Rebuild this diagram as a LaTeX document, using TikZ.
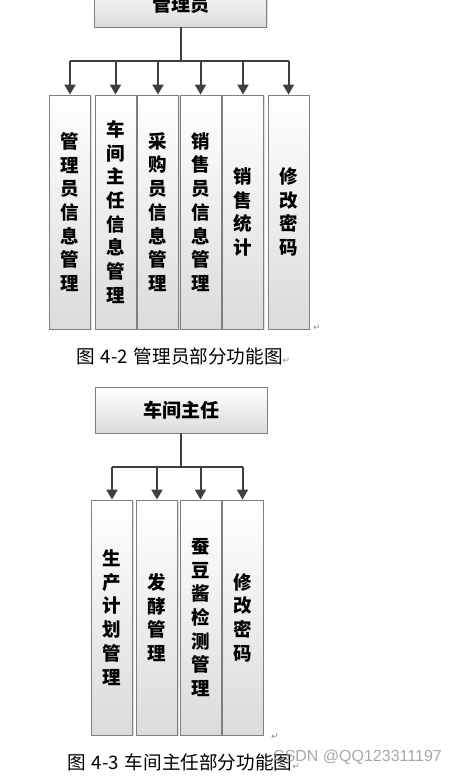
\documentclass[tikz,border=0pt]{standalone}
\usepackage{fontspec}
\usepackage{tikz}
\usetikzlibrary{arrows.meta,shadows}
\newfontfamily\cjk{Noto Sans CJK SC}
\newfontfamily\symfont{DejaVu Sans}
\newfontfamily\wmfont{Liberation Sans}
\definecolor{edgecol}{HTML}{7F7F7F}
\definecolor{linecol}{HTML}{3F3F3F}
\newcommand{\pmark}{{\symfont\fontsize{9}{9}\selectfont\textcolor{black!45}{↵}}}
\newcommand{\capsp}{\hspace{6pt}}
\tikzset{
  head/.style={draw=edgecol, line width=0.9pt, top color=white, bottom color=black!14,
    drop shadow={shadow xshift=1.2pt, shadow yshift=-1.2pt, fill=black!25},
    minimum width=172pt, minimum height=46pt, inner sep=0pt,
    font=\cjk\bfseries\fontsize{19}{19}\selectfont},
  item/.style={draw=edgecol, line width=0.9pt, top color=white, bottom color=black!14,
    drop shadow={shadow xshift=1.2pt, shadow yshift=-1.2pt, fill=black!25},
    minimum width=41pt, minimum height=234pt, inner sep=0pt, align=center,
    font=\cjk\bfseries\fontsize{18.5}{23.7}\selectfont},
  conn/.style={draw=linecol, line width=2pt},
  arr/.style={conn, -{Triangle[width=11pt,length=10pt]}},
  figcap/.style={anchor=west, inner sep=0pt, font=\cjk\fontsize{18.6}{18.6}\selectfont},
  paramark/.style={inner sep=0pt, text=black!45, font=\symfont\fontsize{9}{9}\selectfont}}

\begin{document}
\begin{tikzpicture}[x=1pt, y=-1pt]
    \useasboundingbox[fill=white] (0,0) rectangle (461,776);
    % admin part
    \node[head] (adm) at (180.5,4) {管理员};
    \node[item] (a1) at (70,212)    {管\\理\\员\\信\\息\\管\\理};
    \node[item] (a2) at (115.5,212) {车\\间\\主\\任\\信\\息\\管\\理};
    \node[item] (a3) at (158,212)   {采\\购\\员\\信\\息\\管\\理};
    \node[item] (a4) at (200.5,212) {销\\售\\员\\信\\息\\管\\理};
    \node[item] (a5) at (243,212)   {销\\售\\统\\计};
    \node[item] (a6) at (288.5,212) {修\\改\\密\\码};
    \coordinate (ja) at (180.5,61);
    \draw[conn] (adm) -- (ja);
    \draw[conn] (a1.north |- ja) -- (a6.north |- ja);
    \foreach \n in {a1,a2,a3,a4,a5,a6}
      \draw[arr] (\n.north |- ja) -- (\n.north);
    \node[paramark] (pa) at (317,328) {↵};
    \node[figcap] (capa) at (76,356) {图\capsp 4-2\capsp 管理员部分功能图\pmark};
    % workshop director part
    \node[head] (dir) at (181,410) {车间主任};
    \node[item, minimum height=235pt] (b1) at (112,617.5)   {生\\产\\计\\划\\管\\理};
    \node[item, minimum height=235pt] (b2) at (157,617.5)   {发\\酵\\管\\理};
    \node[item, minimum height=235pt] (b3) at (200.5,617.5) {蚕\\豆\\酱\\检\\测\\管\\理};
    \node[item, minimum height=235pt] (b4) at (242.5,617.5) {修\\改\\密\\码};
    \coordinate (jb) at (181,467);
    \draw[conn] (dir) -- (jb);
    \draw[conn] (b1.north |- jb) -- (b4.north |- jb);
    \foreach \n in {b1,b2,b3,b4}
      \draw[arr] (\n.north |- jb) -- (\n.north);
    \node[paramark] (pb) at (275,737) {↵};
    \node[figcap] (capb) at (67,762) {图\capsp 4-3\capsp 车间主任部分功能图\pmark};
    \node[anchor=west, inner sep=0pt, text=black!40, opacity=0.85,
      font=\wmfont\fontsize{16}{16}\selectfont] (wm) at (273,757) {CSDN @QQ123311197};
\end{tikzpicture}
\end{document}
